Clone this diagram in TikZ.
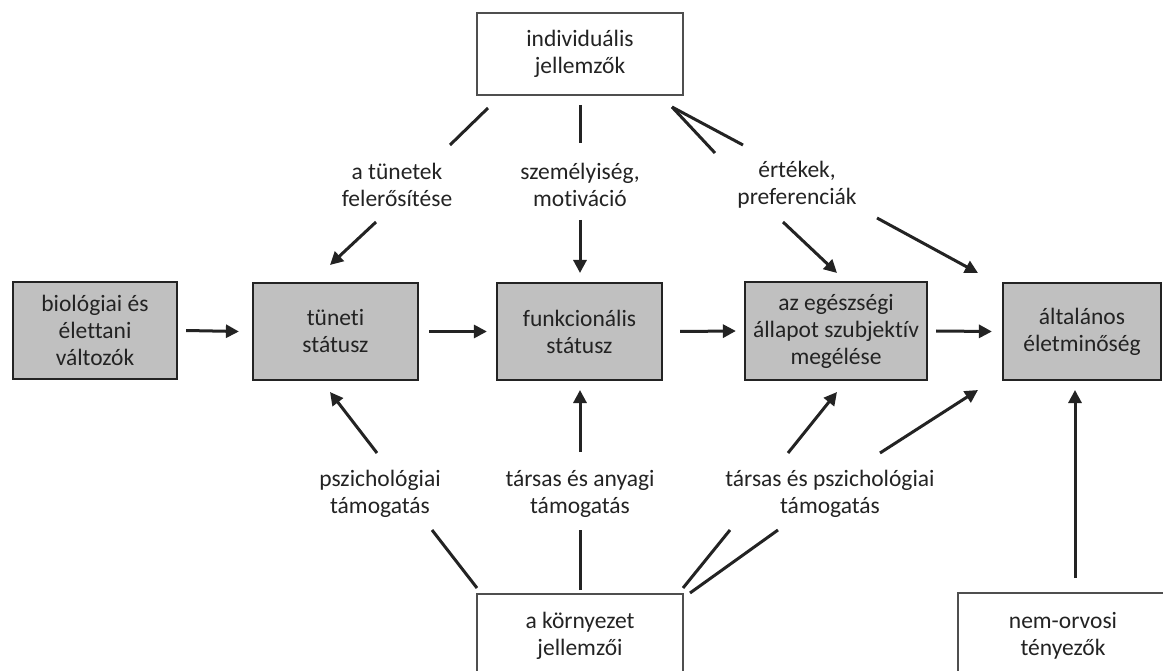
\documentclass[tikz,border=0pt]{standalone}
\usepackage{fontspec}
\setmainfont{Carlito}[Ligatures=NoCommon]
\usetikzlibrary{arrows.meta}
\definecolor{boxgray}{RGB}{192,192,192}
\definecolor{ink}{RGB}{35,35,35}
\begin{document}
\begin{tikzpicture}[x=1pt,y=-1pt,
  every node/.style={font=\fontsize{23.5}{27}\selectfont, text=ink, align=center, inner sep=0pt},
  graybox/.style={draw=ink, line width=2.2pt, fill=boxgray, rectangle, minimum height=97pt},
  whitebox/.style={draw=ink!80, line width=1.6pt, fill=white, rectangle},
  link/.style={draw=ink, line width=3pt},
  arr/.style={link, -{Triangle[length=13pt,width=13pt]}}]
\useasboundingbox (0,0) rectangle (1163,671);
\clip (0,0) rectangle (1163,671);

% boxes
\node[whitebox, minimum width=206pt, minimum height=82pt] (ind) at (580,54) {individuális\\jellemzők};
\node[graybox, minimum width=164pt] (bio) at (95,330.5) {biológiai és\\élettani\\változók};
\node[graybox, minimum width=165pt] (tun) at (335.5,331.5) {tüneti\\státusz};
\node[graybox, minimum width=165pt] (fun) at (579.5,331.5) {funkcionális\\státusz};
\node[graybox, minimum width=182pt, minimum height=98pt] (subj) at (836,331) {az egészségi\\állapot szubjektív\\megélése};
\node[graybox, minimum width=158pt] (alt) at (1082,331.5) {általános\\életminőség};
\node[whitebox, minimum width=206pt, minimum height=84pt] (env) at (580,636) {a környezet\\jellemzői};
\node[whitebox, minimum width=210pt, minimum height=86pt] (nem) at (1063,636) {nem-orvosi\\tényezők};

% labels
\node (l1) at (397,185) {a tünetek\\felerősítése};
\node (l2) at (580,185) {személyiség,\\motiváció};
\node (l3) at (797,185) {értékek,\\preferenciák};
\node (l4) at (380,494) {pszichológiai\\támogatás};
\node (l5) at (580,494) {társas és anyagi\\támogatás};
\node (l6) at (830,494) {társas és pszichológiai\\támogatás};

% connector end points
\coordinate (a1) at (488,108); \coordinate (b1) at (450,145);
\coordinate (c1) at (376,222); \coordinate (d1) at (330,265);
\coordinate (a2) at (580,105); \coordinate (b2) at (580,143);
\coordinate (c2) at (580,220); \coordinate (d2) at (580,273);
\coordinate (a3) at (672,107); \coordinate (b3) at (715,153);
\coordinate (c3) at (783,222); \coordinate (d3) at (837,273);
\coordinate (b4) at (743,145);
\coordinate (c4) at (877,218); \coordinate (d4) at (978,273);

\coordinate (a9) at (477,588); \coordinate (b9) at (432,530);
\coordinate (c9) at (377,453); \coordinate (d9) at (330,392);
\coordinate (a10) at (580,590); \coordinate (b10) at (580,530);
\coordinate (c10) at (580,452); \coordinate (d10) at (580,390);
\coordinate (a11) at (683,588); \coordinate (b11) at (730,530);
\coordinate (c11) at (788,453); \coordinate (d11) at (837,392);
\coordinate (a12) at (690,593); \coordinate (b12) at (778,530);
\coordinate (c12) at (880,453); \coordinate (d12) at (978,390);
\coordinate (n1) at (1075,578); \coordinate (n2) at (1075,390);

% from individuális jellemzők
\draw[link] (a1) -- (b1);  \draw[arr] (c1) -- (d1);
\draw[link] (a2) -- (b2);  \draw[arr] (c2) -- (d2);
\draw[link] (a3) -- (b3);  \draw[arr] (c3) -- (d3);
\draw[link] (a3) -- (b4);  \draw[arr] (c4) -- (d4);

% main chain
\draw[arr] ([xshift=8pt]bio.east) -- ([xshift=-13pt]tun.west);
\draw[arr] ([xshift=10pt]tun.east) -- ([xshift=-9pt]fun.west);
\draw[arr] ([xshift=17pt]fun.east) -- ([xshift=-8pt]subj.west);
\draw[arr] ([xshift=8pt]subj.east) -- ([xshift=-10pt]alt.west);

% from a környezet jellemzői
\draw[link] (a9) -- (b9);   \draw[arr] (c9) -- (d9);
\draw[link] (a10) -- (b10); \draw[arr] (c10) -- (d10);
\draw[link] (a11) -- (b11); \draw[arr] (c11) -- (d11);
\draw[link] (a12) -- (b12); \draw[arr] (c12) -- (d12);

% nem-orvosi tényezők
\draw[arr] (n1) -- (n2);
\end{tikzpicture}
\end{document}
